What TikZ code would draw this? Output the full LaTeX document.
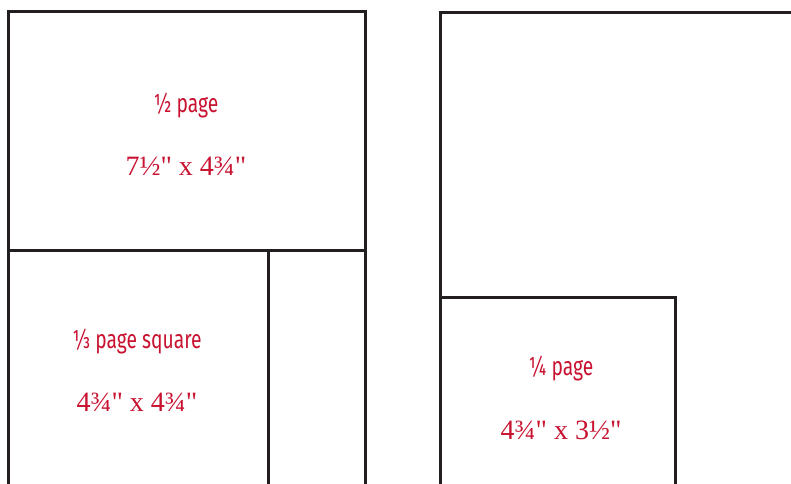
\documentclass[tikz,border=0pt]{standalone}
\usepackage{fontspec}
\setmainfont{Liberation Serif}
\newfontfamily\measfont{Liberation Serif}
\newfontfamily\sizefont[FakeStretch=0.74]{Fira Sans}
\definecolor{adred}{RGB}{200,18,48}
\definecolor{rule}{RGB}{35,31,32}
\tikzset{
  trim/.style={rule,line width=3pt},
  adname/.style={adred,font=\sizefont\fontsize{26}{30}\selectfont},
  admeas/.style={adred,font=\measfont\fontsize{28}{32}\selectfont}
}

\begin{document}
\begin{tikzpicture}[x=1pt,y=-1pt]
\useasboundingbox (0,0) rectangle (791,483);
% left page
\coordinate (LA) at (8,11); \coordinate (LB) at (365,11); \coordinate (LC) at (365,484); \coordinate (LD) at (8,484);
\coordinate (LH1) at (8,250); \coordinate (LH2) at (365,250); \coordinate (LV1) at (268,250); \coordinate (LV2) at (268,484);
\draw[trim] (LD)--(LA)--(LB)--(LC);
\draw[trim] (LH1)--(LH2);
\draw[trim] (LV1)--(LV2);
\node[adname] (half) at (186,106) {½ page};
\node[admeas] (halfsize) at (186,166) {7½" x 4¾"};
\node[adname] (third) at (137,342) {⅓ page square};
\node[admeas] (thirdsize) at (137,402) {4¾" x 4¾"};
% right page
\coordinate (RA) at (440,12); \coordinate (RB) at (792,12); \coordinate (RD) at (440,484);
\coordinate (QA) at (440,297); \coordinate (QB) at (675,297); \coordinate (QC) at (675,484);
\draw[trim] (RD)--(RA)--(RB);
\draw[trim] (QA)--(QB)--(QC);
\node[adname] (quarter) at (561,369) {¼ page};
\node[admeas] (quartersize) at (561,430) {4¾" x 3½"};
\end{tikzpicture}
\end{document}
